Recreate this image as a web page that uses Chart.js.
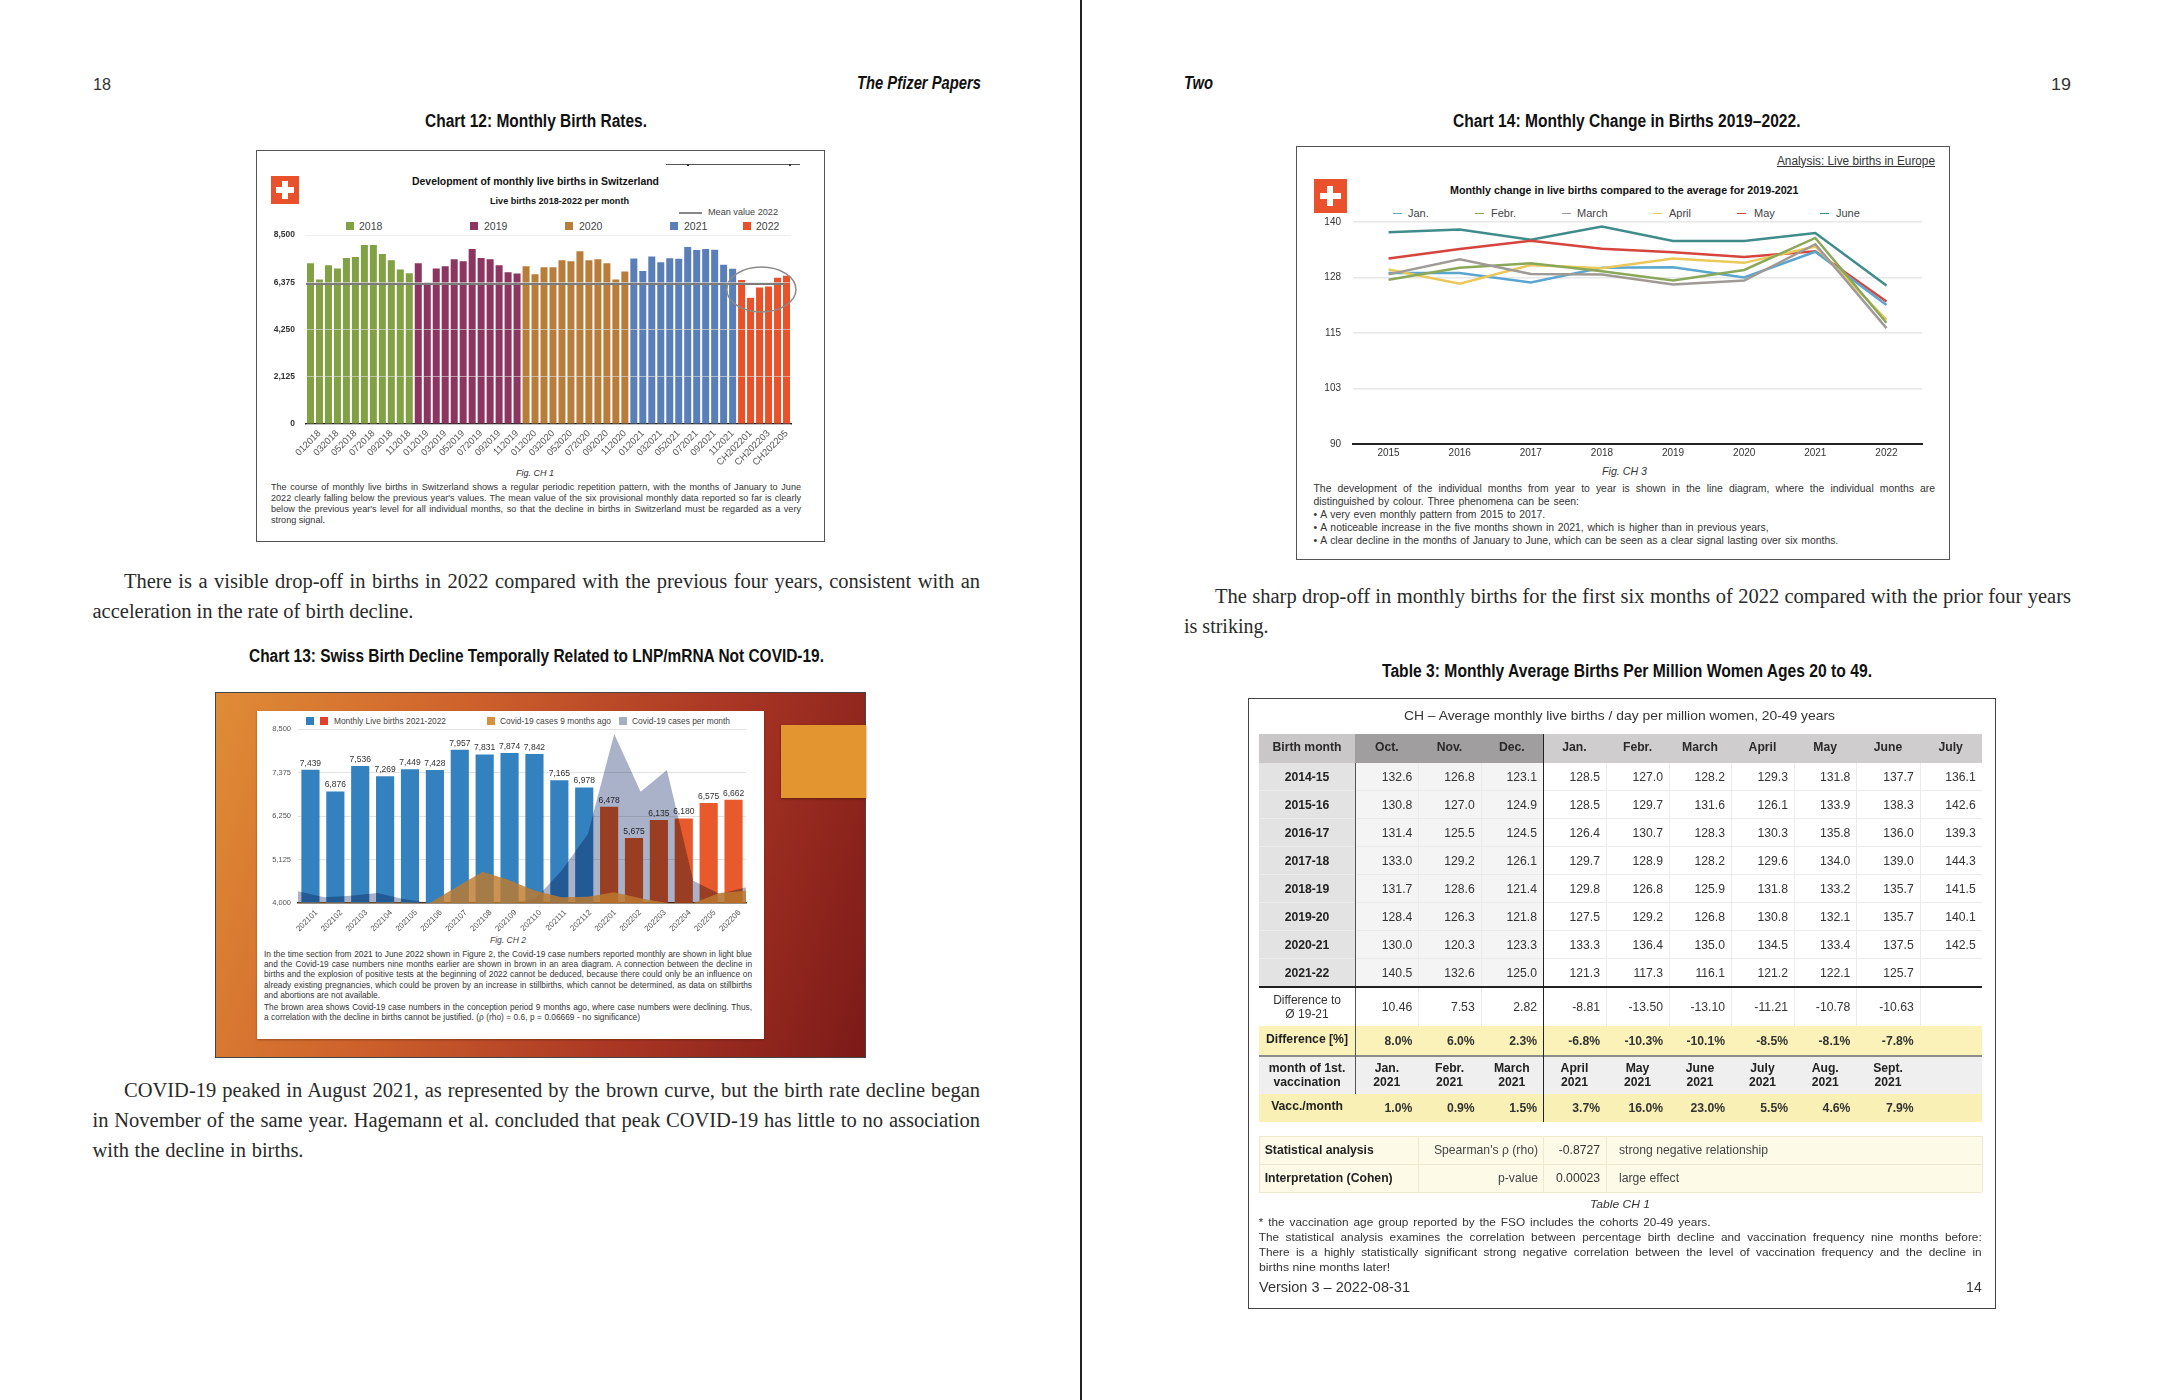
<!DOCTYPE html>
<html>
<head>
<meta charset="utf-8">
<title>The Pfizer Papers 18-19</title>
<script src="https://cdn.jsdelivr.net/npm/chart.js@4"></script>
<style>
  html, body { margin: 0; padding: 0; background: #fff; }
  #page { position: relative; width: 2163px; height: 1400px; overflow: hidden; background: #fff; }
  .layer { position: absolute; left: 0; top: 0; width: 2163px; height: 1400px; }
  .t { position: absolute; white-space: nowrap; line-height: 1; transform-origin: left center; }
  .box { position: absolute; box-sizing: border-box; }
  canvas { position: absolute; }
</style>
</head>
<body>
<div id="page">
  <div class="layer" id="text"></div>
  <div class="layer" id="fig1" style="filter:blur(.45px)"></div>
  <div class="layer" id="fig2" style="filter:blur(.6px)"></div>
  <div class="layer" id="fig3" style="filter:blur(.4px)"></div>
  <div class="layer" id="fig4" style="filter:blur(.35px)"></div>
</div>
<script>
// chart 12 - monthly live births
const labels12 = [
  '012018','022018','032018','042018','052018','062018','072018','082018','092018','102018','112018','122018',
  '012019','022019','032019','042019','052019','062019','072019','082019','092019','102019','112019','122019',
  '012020','022020','032020','042020','052020','062020','072020','082020','092020','102020','112020','122020',
  '012021','022021','032021','042021','052021','062021','072021','082021','092021','102021','112021','122021',
  'CH202201','CH202202','CH202203','CH202204','CH202205','CH202206'
];
const births2018 = [7232, 6502, 7143, 6994, 7471, 7516, 8053, 8053, 7650, 7367, 6949, 6785];
const births2019 = [7232, 6353, 6994, 7098, 7411, 7322, 7874, 7471, 7411, 7143, 6830, 6770];
const births2020 = [7098, 6740, 7054, 7054, 7367, 7322, 7769, 7367, 7411, 7232, 6502, 6860];
const births2021 = [7439, 6876, 7536, 7269, 7449, 7428, 7957, 7831, 7874, 7842, 7165, 6978];
const births2022 = [6479, 5675, 6135, 6180, 6575, 6662];
const meanValue2022 = 6300;

// chart 13 - births against covid cases
const labels13 = ['202101','202102','202103','202104','202105','202106','202107','202108','202109','202110','202111','202112','202201','202202','202203','202204','202205','202206'];
const birthsWindow = [7439, 6876, 7536, 7269, 7449, 7428, 7957, 7831, 7874, 7842, 7165, 6978, 6478, 5675, 6135, 6180, 6575, 6662];
const casesPerMonth = [4302, 4147, 4190, 4259, 4103, 4000, 4000, 4000, 4000, 4103, 4836, 5784, 8371, 6879, 7439, 4578, 4233, 4405];
const cases9MonthsAgo = [4010, 4010, 4010, 4010, 4010, 4000, 4405, 4810, 4595, 4319, 4147, 4164, 4276, 4121, 4000, 4000, 4259, 4319];

// chart 14 - monthly change per year
const years14 = ['2015','2016','2017','2018','2019','2020','2021','2022'];
const seriesJan = [128.5, 128.5, 126.4, 129.7, 129.8, 127.5, 133.3, 121.3];
const seriesFeb = [127.0, 129.7, 130.7, 128.9, 126.8, 129.2, 136.4, 117.3];
const seriesMar = [128.2, 131.6, 128.3, 128.2, 125.9, 126.8, 135.0, 116.1];
const seriesApr = [129.3, 126.1, 130.3, 129.6, 131.8, 130.8, 134.5, 118.0];
const seriesMay = [131.8, 133.9, 135.8, 134.0, 133.2, 132.1, 133.4, 122.1];
const seriesJun = [137.7, 138.3, 136.0, 139.0, 135.7, 135.7, 137.5, 125.7];

// table 3
const tableHead = ['Birth month','Oct.','Nov.','Dec.','Jan.','Febr.','March','April','May','June','July'];
const tableRows = [
  ['2014-15','132.6','126.8','123.1','128.5','127.0','128.2','129.3','131.8','137.7','136.1'],
  ['2015-16','130.8','127.0','124.9','128.5','129.7','131.6','126.1','133.9','138.3','142.6'],
  ['2016-17','131.4','125.5','124.5','126.4','130.7','128.3','130.3','135.8','136.0','139.3'],
  ['2017-18','133.0','129.2','126.1','129.7','128.9','128.2','129.6','134.0','139.0','144.3'],
  ['2018-19','131.7','128.6','121.4','129.8','126.8','125.9','131.8','133.2','135.7','141.5'],
  ['2019-20','128.4','126.3','121.8','127.5','129.2','126.8','130.8','132.1','135.7','140.1'],
  ['2020-21','130.0','120.3','123.3','133.3','136.4','135.0','134.5','133.4','137.5','142.5'],
  ['2021-22','140.5','132.6','125.0','121.3','117.3','116.1','121.2','122.1','125.7','']
];
const diffRow = ['10.46','7.53','2.82','-8.81','-13.50','-13.10','-11.21','-10.78','-10.63',''];
const diffPctRow = ['8.0%','6.0%','2.3%','-6.8%','-10.3%','-10.1%','-8.5%','-8.1%','-7.8%',''];
const vaccMonths = ['Jan.','Febr.','March','April','May','June','July','Aug.','Sept.',''];
const vaccPctRow = ['1.0%','0.9%','1.5%','3.7%','16.0%','23.0%','5.5%','4.6%','7.9%',''];

const SANS = '"Liberation Sans", Arial, sans-serif';
const SERIF = '"Liberation Serif", serif';

const layer = (id) => document.getElementById(id);

// absolute text; w fits it to the width measured in the reference
const put = (parent, text, x, y, o = {}) => {
  const el = document.createElement('div');
  el.className = 't';
  el.textContent = text;
  el.style.fontFamily = o.font || SANS;
  el.style.fontSize = (o.size || 10) + 'px';
  el.style.fontWeight = o.bold ? 'bold' : 'normal';
  el.style.fontStyle = o.italic ? 'italic' : 'normal';
  el.style.color = o.color || '#222';
  if (o.underline) el.style.textDecoration = 'underline';
  parent.appendChild(el);
  let w = el.getBoundingClientRect().width;
  const h = el.getBoundingClientRect().height;
  if (o.w) {
    const gaps = text.split(' ').length - 1;
    if (o.just && gaps >= 4) el.style.wordSpacing = ((o.w - w) / gaps) + 'px';
    else el.style.transform = `scaleX(${o.w / w})`;
    w = o.w;
  }
  let left = x;
  if (o.center) left = x - w / 2;
  if (o.right) left = x - w;
  el.style.left = left + 'px';
  el.style.top = (y - h / 2) + 'px';
  return el;
};

const rect = (parent, x, y, w, h, css) => {
  const el = document.createElement('div');
  el.className = 'box';
  el.style.cssText += `left:${x}px;top:${y}px;width:${w}px;height:${h}px;${css}`;
  parent.appendChild(el);
  return el;
};

const flag = (parent, x, y, w, h) => {
  rect(parent, x, y, w, h, 'background:#e9502c');
  const len = Math.min(w, h) * 0.62;
  const bar = len * 0.3;
  rect(parent, x + w / 2 - len / 2, y + h / 2 - bar / 2, len, bar, 'background:#fff');
  rect(parent, x + w / 2 - bar / 2, y + h / 2 - len / 2, bar, len, 'background:#fff');
};

const addCanvas = (parent, x, y, w, h) => {
  const c = document.createElement('canvas');
  c.width = w;
  c.height = h;
  c.style.left = x + 'px';
  c.style.top = y + 'px';
  c.style.width = w + 'px';
  c.style.height = h + 'px';
  parent.appendChild(c);
  return c;
};

const fmt = (v) => Number(v).toLocaleString('en-US');

// fixed axis sizes, so the plot area lands where the reference has it
const fixHeight = (h) => (s) => { s.height = h; s.paddingLeft = 0; s.paddingRight = 0; s.paddingTop = 0; s.paddingBottom = 0; };
const fixWidth = (w) => (s) => { s.width = w; s.paddingLeft = 0; s.paddingRight = 0; s.paddingTop = 0; s.paddingBottom = 0; };

/* ---------- running text ---------- */
const txt = layer('text');
rect(txt, 1080, 0, 2, 1400, 'background:#222');
const bodyOpts = { font: SERIF, size: 20.5, color: '#2a2a2a' };
put(txt, '18', 93, 84, { size: 17, w: 18, color: '#333' });
put(txt, 'The Pfizer Papers', 980.5, 84, { size: 17.5, bold: true, italic: true, right: true, w: 124, color: '#111' });
put(txt, 'Two', 1184, 84, { size: 17.5, bold: true, italic: true, w: 29, color: '#111' });
put(txt, '19', 2071, 84, { size: 17, right: true, w: 20, color: '#333' });
put(txt, 'Chart 12: Monthly Birth Rates.', 425, 122, { size: 17.5, bold: true, w: 222, color: '#111' });
put(txt, 'Chart 13: Swiss Birth Decline Temporally Related to LNP/mRNA Not COVID-19.', 248.5, 657, { size: 17.5, bold: true, w: 575, color: '#111' });
put(txt, 'Chart 14: Monthly Change in Births 2019–2022.', 1452.5, 122, { size: 17.5, bold: true, w: 347.5, color: '#111' });
put(txt, 'Table 3: Monthly Average Births Per Million Women Ages 20 to 49.', 1382, 672, { size: 17.5, bold: true, w: 490, color: '#111' });
[
  ['There is a visible drop-off in births in 2022 compared with the previous four years, consistent with an', 124, 581, 856],
  ['acceleration in the rate of birth decline.', 92.5, 611, 321],
  ['COVID-19 peaked in August 2021, as represented by the brown curve, but the birth rate decline began', 124, 1090, 856],
  ['in November of the same year. Hagemann et al. concluded that peak COVID-19 has little to no association', 92.5, 1120, 887.5],
  ['with the decline in births.', 92.5, 1150.5, 211],
  ['The sharp drop-off in monthly births for the first six months of 2022 compared with the prior four years', 1215, 596, 856],
  ['is striking.', 1184, 626, 84.5]
].forEach(([s, x, y, w]) => put(txt, s, x, y, { ...bodyOpts, w, just: true }));

/* ---------- chart 12 ---------- */
const f1 = layer('fig1');
rect(f1, 256, 150, 569, 392, 'border:1.5px solid #555;background:#fff');
rect(f1, 666, 164, 134, 1, 'background:#555');
rect(f1, 687, 163.5, 1.5, 2.5, 'background:#333');
rect(f1, 789, 163.5, 1.5, 2.5, 'background:#333');
flag(f1, 271, 176, 28, 28);
put(f1, 'Development of monthly live births in Switzerland', 412, 181, { size: 11, bold: true, w: 247, color: '#111' });
put(f1, 'Live births 2018-2022 per month', 490, 201, { size: 9.5, bold: true, w: 139, color: '#111' });
rect(f1, 679, 212, 23, 1.5, 'background:#888');
put(f1, 'Mean value 2022', 708, 212, { size: 9.5, w: 70, color: '#444' });
[
  ['2018', '#82a044', 346, 359],
  ['2019', '#8b3560', 470, 484],
  ['2020', '#b87d3a', 565, 579],
  ['2021', '#5a7fb8', 670, 684],
  ['2022', '#e8512a', 743, 756]
].forEach(([s, col, sx, tx]) => {
  rect(f1, sx, 222, 8, 8, `background:${col}`);
  put(f1, s, tx, 226, { size: 10.5, color: '#444' });
});
put(f1, 'Fig. CH 1', 535, 473, { size: 9.5, italic: true, center: true, w: 38, color: '#333' });
[
  ['The course of monthly live births in Switzerland shows a regular periodic repetition pattern, with the months of January to June', 488, 530],
  ["2022 clearly falling below the previous year's values. The mean value of the six provisional monthly data reported so far is clearly", 499, 530],
  ["below the previous year's level for all individual months, so that the decline in births in Switzerland must be regarded as a very", 510, 530],
  ['strong signal.', 521, 54]
].forEach(([s, y, w]) => put(f1, s, 271, y, { size: 9.1, w, just: true, color: '#333' }));

const yearColors = [['#82a044', 12], ['#8b3560', 12], ['#b87d3a', 12], ['#5a7fb8', 12], ['#e8512a', 6]];
const barColors12 = yearColors.flatMap(([c, n]) => new Array(n).fill(c));

const overlay12 = {
  id: 'overlay12',
  afterDatasetsDraw(chart) {
    const { ctx, chartArea, scales } = chart;
    const yMean = scales.y.getPixelForValue(meanValue2022);
    ctx.save();
    ctx.strokeStyle = '#7c7c7c';
    ctx.lineWidth = 2;
    ctx.beginPath();
    ctx.moveTo(chartArea.left, yMean);
    ctx.lineTo(chartArea.right - 6, yMean);
    ctx.stroke();
    // circled 2022 months
    const cx = scales.x.getPixelForValue(50.2);
    const cy = scales.y.getPixelForValue(6050);
    const rx = scales.x.getPixelForValue(50.2 + 3.85) - cx;
    const ry = scales.y.getPixelForValue(6050 - 1010) - cy;
    ctx.strokeStyle = '#8a8a8a';
    ctx.lineWidth = 1.5;
    ctx.beginPath();
    ctx.ellipse(cx, cy, rx, ry, 0, 0, Math.PI * 2);
    ctx.stroke();
    ctx.restore();
  }
};

new Chart(addCanvas(f1, 262, 225, 552, 245), {
  type: 'bar',
  data: {
    labels: labels12,
    datasets: [{
      label: 'Live births',
      data: [...births2018, ...births2019, ...births2020, ...births2021, ...births2022],
      backgroundColor: barColors12,
      barPercentage: 0.78,
      categoryPercentage: 1
    }]
  },
  options: {
    responsive: false,
    animation: false,
    layout: { padding: { top: 10, right: 23, left: 0, bottom: 0 } },
    plugins: { legend: { display: false }, tooltip: { enabled: false } },
    scales: {
      x: {
        afterFit: fixHeight(46),
        grid: { display: false, drawTicks: false },
        border: { color: '#222', width: 1.5 },
        ticks: {
          autoSkip: false, maxRotation: 45, minRotation: 45, padding: 4, labelOffset: 9,
          color: '#555', font: { family: SANS, size: 9.5 },
          callback(v, i) { return i % 2 === 0 ? this.getLabelForValue(v) : ''; }
        }
      },
      y: {
        min: 0, max: 8500,
        afterFit: fixWidth(44),
        border: { display: false },
        grid: { color: 'rgba(226,226,226,.6)', lineWidth: 1, drawTicks: false, z: 1 },
        ticks: { stepSize: 2125, padding: 11, color: '#333', font: { family: SANS, size: 8.5, weight: 'bold' }, callback: fmt }
      }
    }
  },
  plugins: [overlay12]
});

/* ---------- chart 13 ---------- */
const f2 = layer('fig2');
rect(f2, 215, 692, 651, 366, 'background:linear-gradient(108deg,#e08c36 0%,#cf632c 32%,#a93524 68%,#7c1a18 100%);border:1px solid #444');
rect(f2, 781, 725, 85, 73, 'background:#e3952f;box-shadow:0 1px 2px rgba(60,20,0,.6)');
rect(f2, 257, 711, 507, 328, 'background:#fff;box-shadow:0 1px 2px rgba(60,20,0,.4)');
rect(f2, 306, 717, 8, 8, 'background:#2f7fc1');
rect(f2, 320, 717, 8, 8, 'background:#e0402c');
put(f2, 'Monthly Live births 2021-2022', 334, 721, { size: 9, w: 112, color: '#444' });
rect(f2, 487, 717, 8, 8, 'background:#d6903f');
put(f2, 'Covid-19 cases 9 months ago', 500, 721, { size: 9, w: 111, color: '#444' });
rect(f2, 619, 717, 8, 8, 'background:#a9adc0');
put(f2, 'Covid-19 cases per month', 632, 721, { size: 9, w: 98, color: '#444' });
put(f2, 'Fig. CH 2', 508, 940, { size: 8.5, italic: true, center: true, w: 36, color: '#444' });
[
  ['In the time section from 2021 to June 2022 shown in Figure 2, the Covid-19 case numbers reported monthly are shown in light blue', 954, 488],
  ['and the Covid-19 case numbers nine months earlier are shown in brown in an area diagram. A connection between the decline in', 964, 488],
  ['births and the explosion of positive tests at the beginning of 2022 cannot be deduced, because there could only be an influence on', 974.3, 488],
  ['already existing pregnancies, which could be proven by an increase in stillbirths, which cannot be determined, as data on stillbirths', 984.7, 488],
  ['and abortions are not available.', 994.7, 116],
  ['The brown area shows Covid-19 case numbers in the conception period 9 months ago, where case numbers were declining. Thus,', 1007, 488],
  ['a correlation with the decline in births cannot be justified. (ρ (rho) = 0.6, p = 0.06669 - no significance)', 1017, 376]
].forEach(([s, y, w]) => put(f2, s, 264, y, { size: 8.3, w, just: true, color: '#333' }));

const barValueLabels = {
  id: 'barValueLabels',
  afterDatasetDraw(chart, args) {
    const { ctx } = chart;
    if (args.index === 1) ctx.globalCompositeOperation = 'source-over';
    if (args.index !== 0) return;
    ctx.save();
    ctx.font = `8.5px ${SANS}`;
    ctx.fillStyle = '#333';
    ctx.textAlign = 'center';
    ctx.textBaseline = 'bottom';
    args.meta.data.forEach((bar, i) => ctx.fillText(fmt(birthsWindow[i]), bar.x, bar.y - 2.5));
    ctx.restore();
    // the filler paints cases per month next, darkening the bars it covers
    ctx.globalCompositeOperation = 'multiply';
  }
};

new Chart(addCanvas(f2, 264, 722, 494, 213), {
  type: 'bar',
  data: {
    labels: labels13,
    datasets: [
      {
        type: 'bar',
        label: 'Monthly Live births 2021-2022',
        data: birthsWindow,
        order: 3,
        grouped: false,
        backgroundColor: labels13.map((l) => (l.startsWith('2022') ? '#e8592c' : '#3381bf')),
        barThickness: 17.5
      },
      {
        type: 'line',
        label: 'Covid-19 cases per month',
        data: casesPerMonth,
        order: 2,
        xAxisID: 'x2',
        fill: 'origin',
        backgroundColor: '#a9b2c9',
        borderWidth: 0,
        pointRadius: 0,
        tension: 0
      },
      {
        type: 'line',
        label: 'Covid-19 cases 9 months ago',
        data: cases9MonthsAgo,
        order: 1,
        xAxisID: 'x2',
        fill: 'origin',
        backgroundColor: 'rgba(190,122,45,.82)',
        borderWidth: 0,
        pointRadius: 0,
        tension: 0
      }
    ]
  },
  options: {
    responsive: false,
    animation: false,
    layout: { padding: { top: 7, right: 12, left: 0, bottom: 0 } },
    plugins: { legend: { display: false }, tooltip: { enabled: false } },
    scales: {
      x: {
        afterFit: fixHeight(32),
        grid: { display: false, drawTicks: false },
        border: { color: '#5a3a1a', width: 1.5 },
        ticks: { autoSkip: false, maxRotation: 45, minRotation: 45, padding: 5, labelOffset: 6, color: '#555', font: { family: SANS, size: 8 } }
      },
      x2: { type: 'category', display: false, offset: false, labels: labels13 },
      y: {
        min: 4000, max: 8500,
        afterFit: fixWidth(34),
        border: { display: false },
        grid: { color: '#e2e2e2', drawTicks: false },
        ticks: { stepSize: 1125, padding: 7, color: '#555', font: { family: SANS, size: 7.5 }, callback: fmt }
      }
    }
  },
  plugins: [barValueLabels]
});

/* ---------- chart 14 ---------- */
const f3 = layer('fig3');
rect(f3, 1296, 146, 654, 414, 'border:1.5px solid #555;background:#fff');
put(f3, 'Analysis: Live births in Europe', 1935, 161, { size: 12.5, right: true, w: 158, underline: true, color: '#333' });
flag(f3, 1313.5, 179, 33.5, 34);
put(f3, 'Monthly change in live births compared to the average for 2019-2021', 1450, 190, { size: 10.5, bold: true, w: 348.5, color: '#111' });
[
  ['Jan.', '#5aa6cf', 1392.5, 1408],
  ['Febr.', '#8ba85a', 1475, 1491],
  ['March', '#a09a96', 1562, 1577],
  ['April', '#eac95a', 1653, 1669],
  ['May', '#d6453d', 1737, 1754],
  ['June', '#3f8c8a', 1820, 1836]
].forEach(([s, col, sx, tx]) => {
  rect(f3, sx, 212.5, 9, 1.8, `background:${col}`);
  put(f3, s, tx, 213, { size: 11, color: '#444' });
});
put(f3, 'Fig. CH 3', 1624.5, 471, { size: 10.5, italic: true, center: true, w: 45, color: '#333' });
[
  ['The development of the individual months from year to year is shown in the line diagram, where the individual months are', 489, 621.5],
  ['distinguished by colour. Three phenomena can be seen:', 502, 265.5],
  ['•  A very even monthly pattern from 2015 to 2017.', 515, 232.5],
  ['•  A noticeable increase in the five months shown in 2021, which is higher than in previous years,', 528, 456],
  ['•  A clear decline in the months of January to June, which can be seen as a clear signal lasting over six months.', 541, 525.5]
].forEach(([s, y, w]) => put(f3, s, 1313.5, y, { size: 10.4, w, just: true, color: '#333' }));

const lineStyle = (label, data, color) => ({
  label, data, borderColor: color, borderWidth: 2.5, pointRadius: 0, tension: 0, fill: false
});

new Chart(addCanvas(f3, 1300, 215, 640, 245), {
  type: 'line',
  data: {
    labels: years14,
    datasets: [
      lineStyle('March', seriesMar, '#a09a96'),
      lineStyle('Feb.', seriesFeb, '#8ba85a'),
      lineStyle('April', seriesApr, '#eac95a'),
      lineStyle('Jan.', seriesJan, '#5aa6cf'),
      lineStyle('May', seriesMay, '#d6453d'),
      lineStyle('June', seriesJun, '#3f8c8a')
    ]
  },
  options: {
    responsive: false,
    animation: false,
    layout: { padding: { top: 7, right: 18, left: 0, bottom: 0 } },
    plugins: { legend: { display: false }, tooltip: { enabled: false } },
    scales: {
      x: {
        offset: true,
        afterFit: fixHeight(16),
        grid: { display: false, drawTicks: false },
        border: { color: '#222', width: 2 },
        ticks: { padding: 3, color: '#333', font: { family: SANS, size: 10 } }
      },
      y: {
        min: 90, max: 140,
        afterFit: fixWidth(53),
        border: { display: false },
        grid: { color: '#e8e8e8', lineWidth: 1.6, drawTicks: false },
        ticks: { stepSize: 12.5, padding: 12, color: '#333', font: { family: SANS, size: 10 }, callback: (v) => Math.round(v) }
      }
    }
  }
});

/* ---------- table 3 ---------- */
const f4 = layer('fig4');
rect(f4, 1248, 698, 748, 611, 'border:1.5px solid #444;background:#fff');
put(f4, 'CH – Average monthly live births / day per million women, 20-49 years', 1619.7, 716, { size: 13.5, center: true, w: 431, color: '#333' });

const colX = [1258.7, 1355.4, 1418.3, 1480.7, 1543, 1606, 1669, 1731, 1794, 1856.4, 1919.7, 1981.7];
const CELL = 12.2;

const fillCell = (x0, y0, x1, y1, bg) => rect(f4, x0, y0, x1 - x0, y1 - y0, `background:${bg}`);
const hline = (x0, x1, y, h, col) => rect(f4, x0, y, x1 - x0, h, `background:${col}`);
const vline = (x, y0, y1, w, col) => rect(f4, x, y0, w, y1 - y0, `background:${col}`);
const numRow = (cells, y, bold) => cells.forEach((s, i) => {
  if (s) put(f4, s, colX[i + 2] - 6, y, { size: CELL, right: true, bold, color: '#333' });
});

// header
fillCell(colX[0], 734, colX[1], 762.7, '#c9c7c7');
fillCell(colX[1], 734, colX[4], 762.7, '#a09e9e');
fillCell(colX[4], 734, colX[11], 762.7, '#cfcdcd');
tableHead.forEach((s, i) => {
  put(f4, s, (colX[i] + colX[i + 1]) / 2, 747, { size: CELL, bold: true, center: true, color: '#2a2a2a' });
});

// yearly rows
const rowY = [762.7, 790.7, 818.7, 846.7, 874.7, 902.7, 930.7, 958.7, 986.7];
tableRows.forEach((r, i) => {
  const y0 = rowY[i];
  const y1 = rowY[i + 1];
  fillCell(colX[0], y0, colX[1], y1, '#e3e3e3');
  fillCell(colX[1], y0, colX[4], y1, '#f4f4f4');
  hline(colX[0], colX[11], y1 - 1, 1, '#ebebeb');
  put(f4, r[0], (colX[0] + colX[1]) / 2, (y0 + y1) / 2, { size: CELL, bold: true, center: true, color: '#222' });
  numRow(r.slice(1), (y0 + y1) / 2);
});
for (let i = 2; i < 11; i++) {
  if (i !== 4) vline(colX[i], 762.7, 1122, 1, '#ececec');
}

// difference rows
put(f4, 'Difference to', (colX[0] + colX[1]) / 2, 1000, { size: 12, center: true, color: '#333' });
put(f4, 'Ø 19-21', (colX[0] + colX[1]) / 2, 1014, { size: 12, center: true, color: '#333' });
numRow(diffRow, 1007);
fillCell(colX[0], 1026, colX[11], 1055.3, '#faf2b8');
put(f4, 'Difference [%]', (colX[0] + colX[1]) / 2, 1039, { size: CELL, bold: true, center: true, color: '#222' });
numRow(diffPctRow, 1041, true);

// vaccination rows
fillCell(colX[0], 1055.3, colX[11], 1094, '#efeff0');
hline(colX[0], colX[11], 1054.5, 2, '#8c8c88');
put(f4, 'month of 1st.', (colX[0] + colX[1]) / 2, 1068, { size: CELL, bold: true, center: true, color: '#222' });
put(f4, 'vaccination', (colX[0] + colX[1]) / 2, 1082, { size: CELL, bold: true, center: true, color: '#222' });
vaccMonths.forEach((s, i) => {
  if (!s) return;
  const cx = (colX[i + 1] + colX[i + 2]) / 2;
  put(f4, s, cx, 1068, { size: CELL, bold: true, center: true, color: '#222' });
  put(f4, '2021', cx, 1082, { size: CELL, bold: true, center: true, color: '#222' });
});
fillCell(colX[0], 1094, colX[11], 1122.3, '#f8f0b4');
put(f4, 'Vacc./month', (colX[0] + colX[1]) / 2, 1106, { size: CELL, bold: true, center: true, color: '#222' });
numRow(vaccPctRow, 1108, true);

// heavy rules
vline(colX[1] - 0.5, 762.7, 1094, 1, '#555');
vline(colX[4] - 0.5, 734, 1122.3, 1.5, '#222');
hline(colX[0], colX[11], 986, 1.5, '#222');

// statistics block
fillCell(colX[0], 1136, colX[11], 1192.3, '#fdfbe8');
hline(colX[0], colX[11], 1136, 1, '#eee9cc');
hline(colX[0], colX[11], 1164, 1, '#eee9cc');
hline(colX[0], colX[11], 1191.5, 1, '#eee9cc');
[colX[0], colX[2], colX[4], colX[5], colX[11]].forEach((x) => vline(x, 1136, 1192.3, 1, '#eee9cc'));
put(f4, 'Statistical analysis', colX[0] + 6, 1150, { size: CELL, bold: true, color: '#222' });
put(f4, "Spearman's ρ (rho)", colX[4] - 5, 1150, { size: CELL, right: true, color: '#444' });
put(f4, '-0.8727', colX[5] - 6, 1150, { size: CELL, right: true, color: '#333' });
put(f4, 'strong negative relationship', colX[5] + 13, 1150, { size: CELL, color: '#444' });
put(f4, 'Interpretation (Cohen)', colX[0] + 6, 1178, { size: CELL, bold: true, color: '#222' });
put(f4, 'p-value', colX[4] - 5, 1178, { size: CELL, right: true, color: '#444' });
put(f4, '0.00023', colX[5] - 6, 1178, { size: CELL, right: true, color: '#333' });
put(f4, 'large effect', colX[5] + 13, 1178, { size: CELL, color: '#444' });

// notes
put(f4, 'Table CH 1', 1619.7, 1205, { size: 11.5, italic: true, center: true, w: 60, color: '#333' });
[
  ['* the vaccination age group reported by the FSO includes the cohorts 20-49 years.', 1222.7, 451.8],
  ['The statistical analysis examines the correlation between percentage birth decline and vaccination frequency nine months before:', 1237.7, 723],
  ['There is a highly statistically significant strong negative correlation between the level of vaccination frequency and the decline in', 1253.3, 723],
  ['births nine months later!', 1268.3, 131.3]
].forEach(([s, y, w]) => put(f4, s, colX[0], y, { size: 11.8, w, just: true, color: '#333' }));
put(f4, 'Version 3 – 2022-08-31', colX[0], 1287.3, { size: 14, w: 151, color: '#333' });
put(f4, '14', colX[11], 1287.3, { size: 14, right: true, color: '#333' });
</script>
</body>
</html>
